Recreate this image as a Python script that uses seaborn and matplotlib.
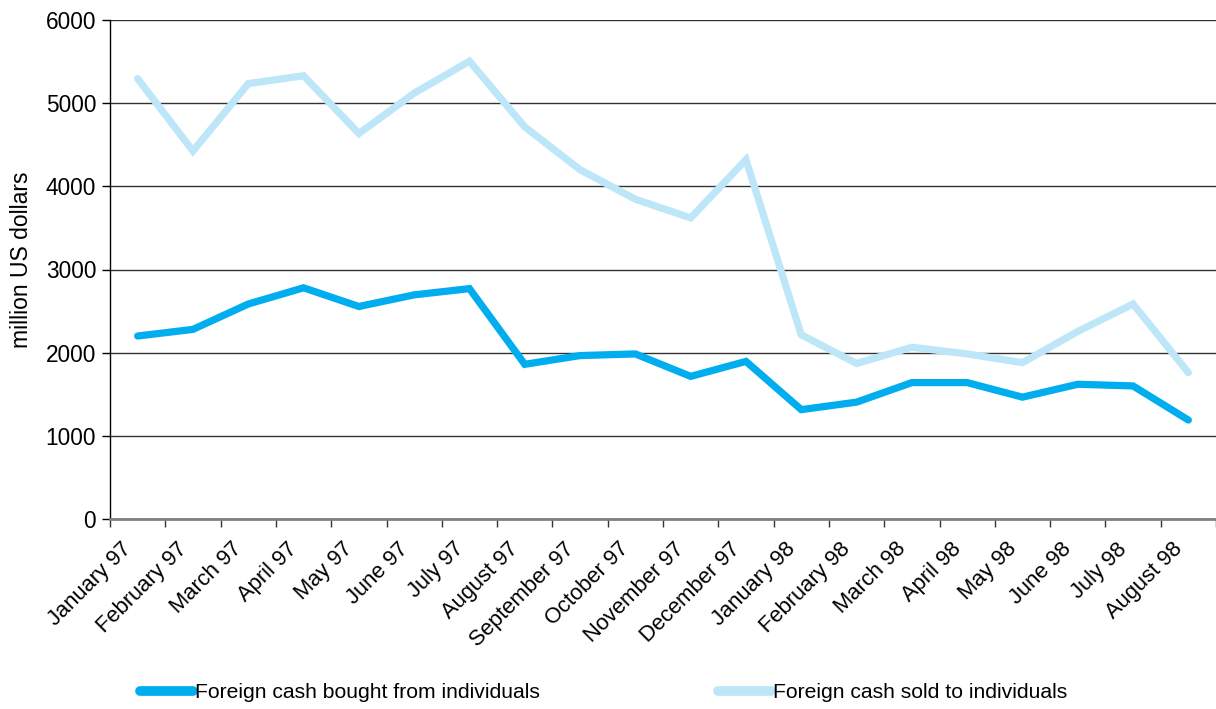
import matplotlib
matplotlib.use('Agg')
import matplotlib.pyplot as plt
import seaborn as sns
import pandas as pd
import numpy as np

months = ['January 97', 'February 97', 'March 97', 'April 97', 'May 97', 'June 97',
          'July 97', 'August 97', 'September 97', 'October 97', 'November 97',
          'December 97', 'January 98', 'February 98', 'March 98', 'April 98',
          'May 98', 'June 98', 'July 98', 'August 98']
bought = [2200, 2280, 2585, 2780, 2555, 2695, 2770, 1860, 1965, 1985, 1715,
          1895, 1315, 1405, 1640, 1640, 1465, 1620, 1600, 1190]
sold = [5295, 4425, 5235, 5330, 4635, 5120, 5505, 4715, 4200, 3845, 3620,
        4320, 2215, 1870, 2065, 1985, 1880, 2255, 2585, 1760]

DARK = '#00aeef'
LIGHT = '#bde6f8'
FONT = ['Liberation Sans', 'DejaVu Sans']

sns.set_theme(style='white')
plt.rcParams['font.family'] = FONT
plt.rcParams['text.color'] = 'black'
plt.rcParams['xtick.color'] = 'black'
plt.rcParams['ytick.color'] = 'black'
plt.rcParams['axes.labelcolor'] = 'black'

df = pd.DataFrame({'pos': np.arange(len(months)), 'month': months,
                   'Foreign cash bought from individuals': bought,
                   'Foreign cash sold to individuals': sold})
long = df.melt(id_vars=['pos', 'month'], var_name='series', value_name='value')

fig = plt.figure(figsize=(12.16, 7.09), dpi=100)
ax = fig.add_axes([110 / 1216, 1 - 519 / 709, 1 - 110 / 1216, (519 - 20) / 709])

sns.lineplot(data=long, x='pos', y='value', hue='series',
             palette=[DARK, LIGHT], linewidth=5.2, ax=ax, legend=False,
             solid_capstyle='round', solid_joinstyle='miter')

ax.set_xlim(-0.5, len(months) - 0.5)
ax.set_ylim(0, 6000)
ax.set_yticks(range(0, 6001, 1000))
ax.set_yticklabels([str(v) for v in range(0, 6001, 1000)], fontsize=16.3)
ax.yaxis.grid(True, color='#333333', linewidth=1)
ax.set_axisbelow(True)

# tick marks on category boundaries, labels near the centres (pulled slightly left)
ax.set_xticks(np.arange(-0.5, len(months), 1.0))
ax.set_xticklabels([])
ax.set_xticks(np.arange(len(months)) - 0.3, minor=True)
ax.set_xticklabels(months, minor=True, rotation=45, ha='right',
                   rotation_mode='anchor', fontsize=15.8)
ax.tick_params(axis='x', which='major', direction='out', length=6, width=1,
               color='#333333', bottom=True)
ax.tick_params(axis='x', which='minor', length=0, pad=14)
ax.tick_params(axis='y', direction='out', length=6, width=1, color='black',
               left=True, pad=4)

ax.set_xlabel('')
ax.set_ylabel('million US dollars', fontsize=16.5)
ax.yaxis.set_label_coords(-0.070, 0.52)

for s in ['top', 'right']:
    ax.spines[s].set_visible(False)
ax.spines['left'].set_color('black')
ax.spines['left'].set_linewidth(1)
ax.spines['bottom'].set_color('#808080')
ax.spines['bottom'].set_linewidth(2)

handles = [plt.Line2D([], [], color=DARK, linewidth=7, solid_capstyle='round'),
           plt.Line2D([], [], color=LIGHT, linewidth=7, solid_capstyle='round')]
fig.legend(handles, ['Foreign cash bought from individuals',
                     'Foreign cash sold to individuals'],
           loc='center left', bbox_to_anchor=(140 / 1216, 16 / 709), ncol=2,
           frameon=False, fontsize=15.2, handlelength=2.5, handletextpad=0.1,
           columnspacing=8.45, borderpad=0, borderaxespad=0)

fig.savefig('out.png', dpi=100, facecolor='white')
plt.close()
